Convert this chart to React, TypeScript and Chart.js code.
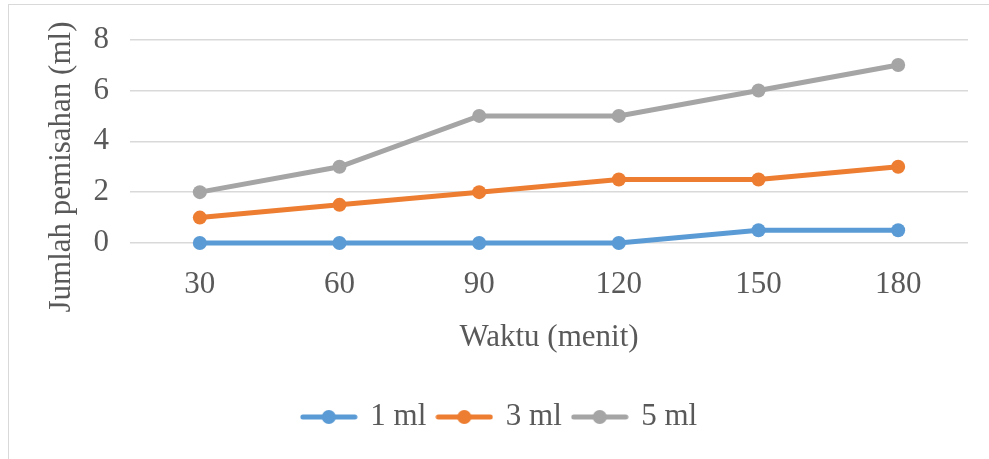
import React, { useEffect, useRef } from "react";
import { Chart, registerables } from "chart.js";

Chart.register(...registerables);

const CATEGORIES = ["30", "60", "90", "120", "150", "180"];
const SERIES_1ML = [0, 0, 0, 0, 0.5, 0.5];
const SERIES_3ML = [1, 1.5, 2, 2.5, 2.5, 3];
const SERIES_5ML = [2, 3, 5, 5, 6, 7];
const SERIES_NAMES = ["1 ml", "3 ml", "5 ml"];
const SERIES_COLORS = ["#5b9bd5", "#ed7d31", "#a5a5a5"];
const Y_TITLE = "Jumlah pemisahan (ml)";
const X_TITLE = "Waktu (menit)";
const Y_MIN = 0;
const Y_MAX = 8;
const Y_STEP = 2;

const FONT_FAMILY = '"Liberation Serif", "Times New Roman", serif';
const TEXT_COLOR = "#595959";
const GRID_COLOR = "#d9d9d9";

function legendSwatch(color: string): HTMLCanvasElement {
  const c = document.createElement("canvas");
  c.width = 58;
  c.height = 16;
  const g = c.getContext("2d")!;
  g.strokeStyle = color;
  g.lineWidth = 5;
  g.lineCap = "round";
  g.beginPath();
  g.moveTo(3, 8);
  g.lineTo(55, 8);
  g.stroke();
  g.fillStyle = color;
  g.beginPath();
  g.arc(29, 8, 7, 0, Math.PI * 2);
  g.fill();
  return c;
}

const yTitlePlugin = {
  id: "yTitlePlugin",
  afterDraw(chart: any) {
    const ctx = chart.ctx;
    ctx.save();
    ctx.translate(62, 167);
    ctx.rotate(-Math.PI / 2);
    ctx.font = `31px ${FONT_FAMILY}`;
    ctx.fillStyle = TEXT_COLOR;
    ctx.textAlign = "center";
    ctx.textBaseline = "middle";
    ctx.fillText(Y_TITLE, 0, 0);
    ctx.restore();
  },
};

export default function App() {
  const ref = useRef<HTMLCanvasElement>(null);

  useEffect(() => {
    if (!ref.current) return;
    const seriesData = [SERIES_1ML, SERIES_3ML, SERIES_5ML];
    const swatches = SERIES_COLORS.map(legendSwatch);
    const chart = new Chart(ref.current, {
      type: "line",
      data: {
        labels: CATEGORIES,
        datasets: seriesData.map((d, i) => ({
          label: SERIES_NAMES[i],
          data: d,
          borderColor: SERIES_COLORS[i],
          backgroundColor: SERIES_COLORS[i],
          borderWidth: 5,
          pointRadius: 7,
          pointBorderWidth: 0,
          pointBackgroundColor: SERIES_COLORS[i],
          pointBorderColor: SERIES_COLORS[i],
          pointStyle: "circle",
          tension: 0,
          clip: false as any,
        })),
      },
      options: {
        responsive: false,
        animation: false,
        layout: { padding: { top: 37, left: 32, right: 21, bottom: 16.5 } },
        plugins: {
          tooltip: { enabled: false },
          legend: {
            position: "bottom",
            labels: {
              usePointStyle: true,
              pointStyleWidth: 52,
              padding: 12,
              color: TEXT_COLOR,
              font: { family: FONT_FAMILY, size: 31 },
              generateLabels: (ch: any) =>
                ch.data.datasets.map((ds: any, i: number) => ({
                  text: ds.label,
                  pointStyle: swatches[i],
                  fillStyle: SERIES_COLORS[i],
                  strokeStyle: SERIES_COLORS[i],
                  lineWidth: 0,
                  fontColor: TEXT_COLOR,
                  hidden: false,
                  datasetIndex: i,
                })),
            },
          },
        },
        scales: {
          x: {
            type: "category",
            offset: true,
            grid: { display: false, drawTicks: false },
            border: { display: false },
            ticks: {
              color: TEXT_COLOR,
              padding: 23,
              font: { family: FONT_FAMILY, size: 31 },
              maxRotation: 0,
            },
            title: {
              display: true,
              text: X_TITLE,
              color: TEXT_COLOR,
              font: { family: FONT_FAMILY, size: 31 },
              padding: { top: 0, bottom: 33 },
            },
            afterFit: (scale: any) => {
              scale.height = 146.5;
            },
          },
          y: {
            min: Y_MIN,
            max: Y_MAX,
            grid: { color: GRID_COLOR, lineWidth: 1.5, drawTicks: false },
            border: { display: false },
            ticks: {
              stepSize: Y_STEP,
              color: TEXT_COLOR,
              padding: 21,
              font: { family: FONT_FAMILY, size: 31 },
            },
            afterFit: (scale: any) => {
              scale.width = 98;
            },
          },
        },
      },
      plugins: [yTitlePlugin],
    });
    return () => chart.destroy();
  }, []);

  return (
    <div
      style={{
        position: "fixed",
        left: 0,
        top: 0,
        width: 989,
        height: 459,
        background: "#ffffff",
        overflow: "hidden",
      }}
    >
      <canvas
        ref={ref}
        width={989}
        height={459}
        style={{ position: "absolute", left: 0, top: 0, width: 989, height: 459 }}
      />
      <div
        style={{
          position: "absolute",
          left: 8,
          top: 4,
          width: 1100,
          height: 1100,
          border: `1.5px solid ${GRID_COLOR}`,
          pointerEvents: "none",
        }}
      />
    </div>
  );
}
